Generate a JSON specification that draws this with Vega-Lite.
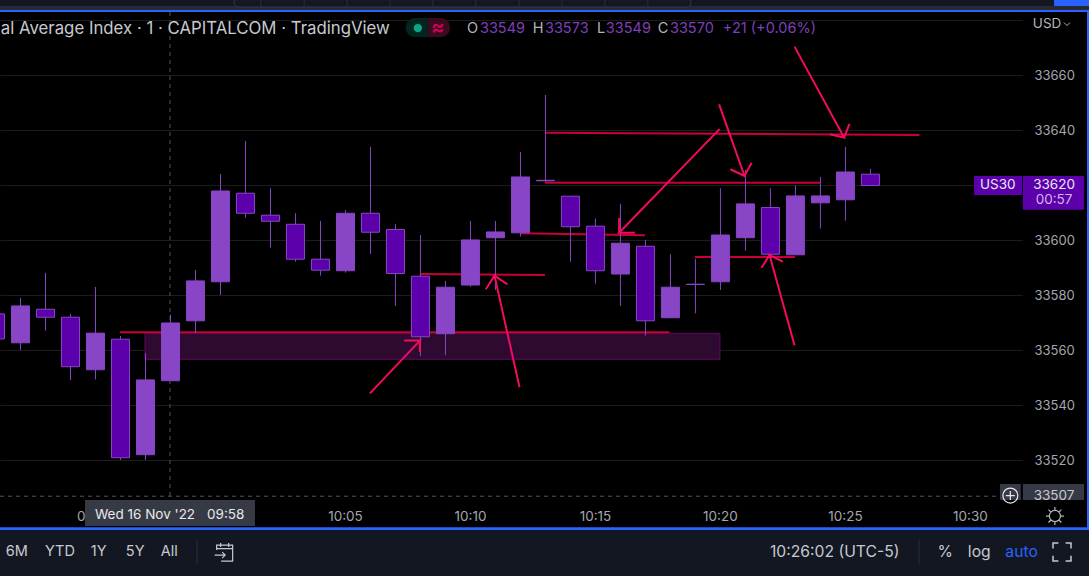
{
"$schema":"https://vega.github.io/schema/vega-lite/v6.json",
"width":1022,"height":488,
"autosize":{"type":"none"},
"padding":{"left":0,"top":12,"right":67,"bottom":76},
"background":"#000000",
"config":{"font":"Inter","style":{"cell":{"stroke":null}}},
"datasets":{
"candles":[
{"time":"2022-11-16T09:51:00","open":33573.3,"high":33574.7,"low":33562,"close":33564.2},
{"time":"2022-11-16T09:52:00","open":33562.8,"high":33579.1,"low":33560.2,"close":33576.2},
{"time":"2022-11-16T09:53:00","open":33575,"high":33588.2,"low":33567.2,"close":33572.1},
{"time":"2022-11-16T09:54:00","open":33572.1,"high":33573.3,"low":33549.3,"close":33554.1},
{"time":"2022-11-16T09:55:00","open":33553,"high":33583.1,"low":33549.5,"close":33566.3},
{"time":"2022-11-16T09:56:00","open":33564.1,"high":33565.3,"low":33520.2,"close":33521},
{"time":"2022-11-16T09:57:00","open":33522.1,"high":33559,"low":33520.2,"close":33549.3},
{"time":"2022-11-16T09:58:00","open":33549,"high":33573,"low":33549,"close":33570},
{"time":"2022-11-16T09:59:00","open":33570.8,"high":33589.3,"low":33566.4,"close":33585.3},
{"time":"2022-11-16T10:00:00","open":33585,"high":33624.2,"low":33580.2,"close":33618},
{"time":"2022-11-16T10:01:00","open":33617.2,"high":33636.2,"low":33608.3,"close":33609.9},
{"time":"2022-11-16T10:02:00","open":33609.2,"high":33619,"low":33597.4,"close":33607},
{"time":"2022-11-16T10:03:00","open":33605.9,"high":33609.9,"low":33592.3,"close":33593.2},
{"time":"2022-11-16T10:04:00","open":33593.2,"high":33607.1,"low":33587.2,"close":33589.2},
{"time":"2022-11-16T10:05:00","open":33589,"high":33611.1,"low":33588.3,"close":33609.9},
{"time":"2022-11-16T10:06:00","open":33609.9,"high":33634,"low":33595.1,"close":33603},
{"time":"2022-11-16T10:07:00","open":33604,"high":33606,"low":33576.2,"close":33588},
{"time":"2022-11-16T10:08:00","open":33587,"high":33602,"low":33558,"close":33565},
{"time":"2022-11-16T10:09:00","open":33566.1,"high":33585.3,"low":33558.4,"close":33583},
{"time":"2022-11-16T10:10:00","open":33583.8,"high":33607.1,"low":33583.2,"close":33600.2},
{"time":"2022-11-16T10:11:00","open":33601,"high":33607.1,"low":33582,"close":33603.1},
{"time":"2022-11-16T10:12:00","open":33602.8,"high":33632.2,"low":33601.4,"close":33623.1},
{"time":"2022-11-16T10:13:00","open":33621.7,"high":33652.9,"low":33621.3,"close":33621.9},
{"time":"2022-11-16T10:14:00","open":33616.1,"high":33616.1,"low":33592.3,"close":33605},
{"time":"2022-11-16T10:15:00","open":33605.2,"high":33608,"low":33584.3,"close":33589},
{"time":"2022-11-16T10:16:00","open":33587.8,"high":33613.3,"low":33576.2,"close":33599},
{"time":"2022-11-16T10:17:00","open":33597.9,"high":33600.2,"low":33565.4,"close":33570.8},
{"time":"2022-11-16T10:18:00","open":33571.9,"high":33595,"low":33571.9,"close":33583},
{"time":"2022-11-16T10:19:00","open":33584,"high":33593.3,"low":33573.5,"close":33584.1},
{"time":"2022-11-16T10:20:00","open":33585,"high":33619,"low":33582,"close":33602},
{"time":"2022-11-16T10:21:00","open":33601,"high":33625.6,"low":33596.3,"close":33613.3},
{"time":"2022-11-16T10:22:00","open":33612,"high":33619,"low":33595,"close":33595},
{"time":"2022-11-16T10:23:00","open":33594.8,"high":33620,"low":33594.8,"close":33616.2},
{"time":"2022-11-16T10:24:00","open":33613.7,"high":33623.1,"low":33604.3,"close":33616.2},
{"time":"2022-11-16T10:25:00","open":33614.8,"high":33634,"low":33607.2,"close":33624.9},
{"time":"2022-11-16T10:26:00","open":33624.1,"high":33626,"low":33620,"close":33620}
],
"zone":[{"time":"2022-11-16T09:57:00","time2":"2022-11-16T10:20:00","price":33566.25,"price2":33556.8,"role":"zone"}],
"levels":[
{"id":"l1","step":1,"time":"2022-11-16T09:56:00","price":33566.6,"role":"level"},
{"id":"l1","step":2,"time":"2022-11-16T10:17:59","price":33566.6,"role":"level"},
{"id":"l2","step":1,"time":"2022-11-16T10:08:00","price":33587.8,"role":"level"},
{"id":"l2","step":2,"time":"2022-11-16T10:13:00","price":33587.45,"role":"level"},
{"id":"l3","step":1,"time":"2022-11-16T10:12:00","price":33602.6,"role":"level"},
{"id":"l3","step":2,"time":"2022-11-16T10:17:00","price":33601.9,"role":"level"},
{"id":"l4","step":1,"time":"2022-11-16T10:13:00","price":33639.2,"role":"level"},
{"id":"l4","step":2,"time":"2022-11-16T10:27:59","price":33638.4,"role":"level"},
{"id":"l5","step":1,"time":"2022-11-16T10:13:00","price":33621,"role":"level"},
{"id":"l5","step":2,"time":"2022-11-16T10:24:00","price":33621,"role":"level"},
{"id":"l6","step":1,"time":"2022-11-16T10:19:00","price":33594,"role":"level"},
{"id":"l6","step":2,"time":"2022-11-16T10:23:00","price":33594,"role":"level"}
],
"arrows":[
{"id":"a1","step":1,"time":"2022-11-16T10:06:00","price":33544.4,"role":"arrow"},
{"id":"a1","step":2,"time":"2022-11-16T10:08:00","price":33563.6,"role":"arrow"},
{"id":"a1","step":3,"time":"2022-11-16T10:07:22","price":33563.6,"role":"arrow"},
{"id":"a1","step":4,"time":"2022-11-16T10:08:00","price":33563.6,"role":"arrow"},
{"id":"a1","step":5,"time":"2022-11-16T10:08:00","price":33559.45,"role":"arrow"},
{"id":"a2","step":1,"time":"2022-11-16T10:11:59","price":33546.6,"role":"arrow"},
{"id":"a2","step":2,"time":"2022-11-16T10:10:59","price":33587.2,"role":"arrow"},
{"id":"a2","step":3,"time":"2022-11-16T10:10:38","price":33582.25,"role":"arrow"},
{"id":"a2","step":4,"time":"2022-11-16T10:10:59","price":33587.2,"role":"arrow"},
{"id":"a2","step":5,"time":"2022-11-16T10:11:30","price":33584.05,"role":"arrow"},
{"id":"a3","step":1,"time":"2022-11-16T10:19:59","price":33640.5,"role":"arrow"},
{"id":"a3","step":2,"time":"2022-11-16T10:15:58","price":33602.8,"role":"arrow"},
{"id":"a3","step":3,"time":"2022-11-16T10:16:36","price":33602.8,"role":"arrow"},
{"id":"a3","step":4,"time":"2022-11-16T10:15:58","price":33602.8,"role":"arrow"},
{"id":"a3","step":5,"time":"2022-11-16T10:15:58","price":33608.2,"role":"arrow"},
{"id":"a4","step":1,"time":"2022-11-16T10:19:58","price":33649.5,"role":"arrow"},
{"id":"a4","step":2,"time":"2022-11-16T10:20:59","price":33623.45,"role":"arrow"},
{"id":"a4","step":3,"time":"2022-11-16T10:20:25","price":33625.9,"role":"arrow"},
{"id":"a4","step":4,"time":"2022-11-16T10:20:59","price":33623.45,"role":"arrow"},
{"id":"a4","step":5,"time":"2022-11-16T10:21:16","price":33628.3,"role":"arrow"},
{"id":"a5","step":1,"time":"2022-11-16T10:22:59","price":33561.9,"role":"arrow"},
{"id":"a5","step":2,"time":"2022-11-16T10:21:59","price":33594.7,"role":"arrow"},
{"id":"a5","step":3,"time":"2022-11-16T10:21:40","price":33590.1,"role":"arrow"},
{"id":"a5","step":4,"time":"2022-11-16T10:21:59","price":33594.7,"role":"arrow"},
{"id":"a5","step":5,"time":"2022-11-16T10:22:31","price":33592.3,"role":"arrow"},
{"id":"a6","step":1,"time":"2022-11-16T10:22:59","price":33670.5,"role":"arrow"},
{"id":"a6","step":2,"time":"2022-11-16T10:24:58","price":33637.4,"role":"arrow"},
{"id":"a6","step":3,"time":"2022-11-16T10:24:24","price":33638.6,"role":"arrow"},
{"id":"a6","step":4,"time":"2022-11-16T10:24:58","price":33637.4,"role":"arrow"},
{"id":"a6","step":5,"time":"2022-11-16T10:25:11","price":33642.4,"role":"arrow"}
],
"crosshair":[
{"time":"2022-11-16T09:58:00","time2":"2022-11-16T09:58:00","price":33683.09,"price2":33505.63,"role":"cross"},
{"time":"2022-11-16T09:51:12","time2":"2022-11-16T10:31:12","price":33507,"price2":33507,"role":"cross"}
],
"panels":[
{"time":"2022-11-16T09:51:12","time2":"2022-11-16T10:34:46","price":33494.9,"price2":33478,"role":"bar"},
{"time":"2022-11-16T09:51:12","time2":"2022-11-16T10:34:46","price":33495.7,"price2":33494.7,"role":"blue"},
{"time":"2022-11-16T10:34:41","time2":"2022-11-16T10:34:46","price":33683.8,"price2":33494.7,"role":"blue"},
{"time":"2022-11-16T09:51:12","time2":"2022-11-16T10:34:46","price":33687.45,"price2":33685.27,"role":"bar"},
{"time":"2022-11-16T09:51:12","time2":"2022-11-16T10:34:46","price":33685.27,"price2":33683.8,"role":"strip"},
{"time":"2022-11-16T09:51:12","time2":"2022-11-16T10:34:46","price":33683.8,"price2":33683.09,"role":"blue"},
{"time":"2022-11-16T10:33:22","time2":"2022-11-16T10:34:46","price":33687.45,"price2":33685.27,"role":"blue"},
{"time":"2022-11-16T10:30:10","time2":"2022-11-16T10:32:05","price":33623.45,"price2":33616.55,"role":"tag"},
{"time":"2022-11-16T10:32:07","time2":"2022-11-16T10:34:34","price":33623.45,"price2":33611.2,"role":"tag"},
{"time":"2022-11-16T10:32:07","time2":"2022-11-16T10:34:34","price":33511.45,"price2":33505.65,"role":"tip"},
{"time":"2022-11-16T10:31:12","time2":"2022-11-16T10:32:02","price":33511.45,"price2":33505.65,"role":"tip"},
{"time":"2022-11-16T09:54:36","time2":"2022-11-16T10:01:24","price":33505.65,"price2":33496.15,"role":"tip"}
],
"tabs":[{"time":"2022-11-16T10:00:34","time2":"2022-11-16T10:18:50","price":33687.6,"price2":33684.9,"role":"bar"}],
"seps":[
{"time":"2022-11-16T09:59:05","price":33491.05,"price2":33482.35,"role":"sep"},
{"time":"2022-11-16T10:27:58","price":33491.05,"price2":33482.35,"role":"sep"},
{"time":"2022-11-16T10:01:38","price":33687.45,"price2":33684.9,"role":"sep"},
{"time":"2022-11-16T10:03:22","price":33687.45,"price2":33684.9,"role":"sep"},
{"time":"2022-11-16T10:05:05","price":33687.45,"price2":33684.9,"role":"sep"},
{"time":"2022-11-16T10:06:48","price":33687.45,"price2":33684.9,"role":"sep"},
{"time":"2022-11-16T10:08:31","price":33687.45,"price2":33684.9,"role":"sep"},
{"time":"2022-11-16T10:10:14","price":33687.45,"price2":33684.9,"role":"sep"},
{"time":"2022-11-16T10:11:58","price":33687.45,"price2":33684.9,"role":"sep"},
{"time":"2022-11-16T10:13:41","price":33687.45,"price2":33684.9,"role":"sep"},
{"time":"2022-11-16T10:15:24","price":33687.45,"price2":33684.9,"role":"sep"},
{"time":"2022-11-16T10:17:07","price":33687.45,"price2":33684.9,"role":"sep"}
],
"pillGreen":[{"time":"2022-11-16T10:07:26","time2":"2022-11-16T10:08:19","price":33680.9,"price2":33674,"role":"pillG"}],
"pillRed":[{"time":"2022-11-16T10:08:19","time2":"2022-11-16T10:09:12","price":33680.9,"price2":33674,"role":"pillR"}],
"dot":[{"time":"2022-11-16T10:07:55","price":33677.25,"role":"dot"}],
"titleText":[{"time":"2022-11-16T09:51:14","price":33676.9,"role":"text","label":"al Average Index · 1 · CAPITALCOM · TradingView"}],
"ohlc":[
{"time":"2022-11-16T10:09:53","price":33676.9,"role":"muted","label":"O"},
{"time":"2022-11-16T10:10:24","price":33676.9,"role":"purple","label":"33549"},
{"time":"2022-11-16T10:12:31","price":33676.9,"role":"muted","label":"H"},
{"time":"2022-11-16T10:13:00","price":33676.9,"role":"purple","label":"33573"},
{"time":"2022-11-16T10:15:05","price":33676.9,"role":"muted","label":"L"},
{"time":"2022-11-16T10:15:26","price":33676.9,"role":"purple","label":"33549"},
{"time":"2022-11-16T10:17:31","price":33676.9,"role":"muted","label":"C"},
{"time":"2022-11-16T10:18:00","price":33676.9,"role":"purple","label":"33570"},
{"time":"2022-11-16T10:20:07","price":33676.9,"role":"purple","label":"+21 (+0.06%)"}
],
"smallText":[
{"time":"2022-11-16T10:32:31","price":33678.55,"role":"muted","label":"USD"},
{"time":"2022-11-16T09:55:00","price":33500.15,"role":"white","label":"Wed 16 Nov '22"},
{"time":"2022-11-16T09:59:29","price":33500.15,"role":"white","label":"09:58"}
],
"toolbar":[
{"time":"2022-11-16T09:51:26","price":33486.7,"role":"text","label":"6M"},
{"time":"2022-11-16T09:53:00","price":33486.7,"role":"text","label":"YTD"},
{"time":"2022-11-16T09:54:50","price":33486.7,"role":"text","label":"1Y"},
{"time":"2022-11-16T09:56:14","price":33486.7,"role":"text","label":"5Y"},
{"time":"2022-11-16T09:57:38","price":33486.7,"role":"text","label":"All"}
],
"toolbarRight":[
{"time":"2022-11-16T10:22:00","price":33486.7,"role":"text","label":"10:26:02 (UTC-5)"},
{"time":"2022-11-16T10:28:42","price":33486.7,"role":"text","label":"%"},
{"time":"2022-11-16T10:29:55","price":33486.7,"role":"text","label":"log"},
{"time":"2022-11-16T10:31:25","price":33486.7,"role":"blueText","label":"auto"}
],
"tagText":[
{"time":"2022-11-16T10:31:07","price":33620,"role":"white","label":"US30"},
{"time":"2022-11-16T10:33:22","price":33620,"role":"white","label":"33620"},
{"time":"2022-11-16T10:33:22","price":33614.55,"role":"tagMuted","label":"00:57"},
{"time":"2022-11-16T10:33:22","price":33507.25,"role":"text","label":"33507"}
],
"approx":[{"time":"2022-11-16T10:08:43","price":33677.45,"role":"rose","label":"≈"}],
"iconPlus":[{"time":"2022-11-16T10:31:37","price":33507.25,"role":"white"}],
"iconSun":[{"time":"2022-11-16T10:33:24","price":33499.8,"role":"muted"}],
"iconCal":[{"time":"2022-11-16T10:00:10","price":33486.7,"role":"text"}],
"iconFull":[{"time":"2022-11-16T10:33:41","price":33486.7,"role":"text"}],
"iconChev":[{"time":"2022-11-16T10:33:53","price":33678.7,"role":"muted"}]
},
"encoding":{
"x":{"field":"time","type":"temporal","title":null,
"scale":{"padding":0,"domain":[{"year":2022,"month":11,"date":16,"hours":9,"minutes":51,"seconds":12},{"year":2022,"month":11,"date":16,"hours":10,"minutes":32,"seconds":5}]},
"axis":{"format":"%H:%M","values":[{"year":2022,"month":11,"date":16,"hours":9,"minutes":55},{"year":2022,"month":11,"date":16,"hours":10,"minutes":5},{"year":2022,"month":11,"date":16,"hours":10,"minutes":10},{"year":2022,"month":11,"date":16,"hours":10,"minutes":15},{"year":2022,"month":11,"date":16,"hours":10,"minutes":20},{"year":2022,"month":11,"date":16,"hours":10,"minutes":25},{"year":2022,"month":11,"date":16,"hours":10,"minutes":30}],"grid":false,"ticks":false,"domain":false,"labelColor":"#a3a6af","labelFont":"Inter","labelFontSize":13.5,"labelPadding":9,"labelFlush":false,"labelOverlap":false,"labelBound":false}},
"y":{"field":"price","type":"quantitative","title":null,
"scale":{"domain":[33505.63,33683.09],"nice":false,"zero":false},
"axis":{"orient":"right","values":[33520,33540,33560,33580,33600,33620,33640,33660,33680],"labelExpr":"datum.value>33670||datum.value==33620?'':format(datum.value,'d')","grid":true,"gridColor":"#1c1c1e","gridWidth":1,"ticks":false,"domain":false,"labelColor":"#a3a6af","labelFont":"Inter","labelFontSize":13,"labelPadding":12,"labelOverlap":false,"labelBound":false}},
"color":{"field":"role","type":"nominal","legend":null,
"scale":{"domain":["bar","strip","blue","tag","tip","pillG","pillR","zone","level","arrow","cross","sep","text","muted","purple","white","tagMuted","dot","blueText","rose"],
"range":["#131722","#262a35","#2962ff","#5b00ab","#363a45","#00261f","#3a0a1e","#2f0a30","#c80036","#f50a60","#555555","#2a2e39","#c7c9d0","#b2b5be","#7e3fb8","#e8e9ed","#d0b8ea","#0aa585","#2962ff","#c8054f"]}}
},
"layer":[
{"data":{"name":"zone"},"mark":{"type":"rect","stroke":"#5f0a5e","strokeWidth":1},"encoding":{"x2":{"field":"time2"},"y2":{"field":"price2"}}},
{"data":{"name":"levels"},"mark":{"type":"line","strokeWidth":2,"interpolate":"linear"},"encoding":{"detail":{"field":"id"},"order":{"field":"step"}}},
{"data":{"name":"crosshair"},"mark":{"type":"rule","strokeWidth":1,"strokeDash":[4,4]},"encoding":{"x2":{"field":"time2"},"y2":{"field":"price2"}}},
{"data":{"name":"candles"},"mark":{"type":"rule","strokeWidth":1,"xOffset":0.5},"encoding":{"y":{"field":"low","type":"quantitative"},"y2":{"field":"high"},"color":{"value":"#8845c6"}}},
{"data":{"name":"candles"},"mark":{"type":"bar","size":18,"stroke":"#8845c6","strokeWidth":1,"xOffset":0.5},"encoding":{"y":{"field":"open","type":"quantitative"},"y2":{"field":"close"},"color":{"condition":{"test":"datum.close>=datum.open","value":"#8845c6"},"value":"#5b00ab"}}},
{"data":{"name":"arrows"},"mark":{"type":"line","strokeWidth":2,"interpolate":"linear"},"encoding":{"detail":{"field":"id"},"order":{"field":"step"}}},
{"data":{"name":"panels"},"mark":{"type":"rect"},"encoding":{"x2":{"field":"time2"},"y2":{"field":"price2"}}},
{"data":{"name":"tabs"},"mark":{"type":"rect","stroke":"#363a45","strokeWidth":1,"cornerRadiusBottomLeft":5,"cornerRadiusBottomRight":5},"encoding":{"x2":{"field":"time2"},"y2":{"field":"price2"}}},
{"data":{"name":"seps"},"mark":{"type":"rule","strokeWidth":1},"encoding":{"y2":{"field":"price2"}}},
{"data":{"name":"pillGreen"},"mark":{"type":"rect","cornerRadiusTopLeft":9,"cornerRadiusBottomLeft":9},"encoding":{"x2":{"field":"time2"},"y2":{"field":"price2"}}},
{"data":{"name":"pillRed"},"mark":{"type":"rect","cornerRadiusTopRight":9,"cornerRadiusBottomRight":9},"encoding":{"x2":{"field":"time2"},"y2":{"field":"price2"}}},
{"data":{"name":"dot"},"mark":{"type":"point","filled":true,"shape":"circle","size":70,"opacity":1}},
{"data":{"name":"titleText"},"mark":{"type":"text","align":"left","baseline":"middle","font":"Inter","fontSize":16.8}, "encoding":{"text":{"field":"label"}}},
{"data":{"name":"ohlc"},"mark":{"type":"text","align":"left","baseline":"middle","font":"Inter","fontSize":14.5}, "encoding":{"text":{"field":"label"}}},
{"data":{"name":"smallText"},"mark":{"type":"text","align":"left","baseline":"middle","font":"Inter","fontSize":13.5}, "encoding":{"text":{"field":"label"}}},
{"data":{"name":"toolbar"},"mark":{"type":"text","align":"left","baseline":"middle","font":"Inter","fontSize":14.5}, "encoding":{"text":{"field":"label"}}},
{"data":{"name":"toolbarRight"},"mark":{"type":"text","align":"left","baseline":"middle","font":"Inter","fontSize":15.7}, "encoding":{"text":{"field":"label"}}},
{"data":{"name":"tagText"},"mark":{"type":"text","align":"center","baseline":"middle","font":"Inter","fontSize":13.5}, "encoding":{"text":{"field":"label"}}},
{"data":{"name":"approx"},"mark":{"type":"text","align":"center","baseline":"middle","font":"Inter","fontSize":20,"fontWeight":"bold"}, "encoding":{"text":{"field":"label"}}},
{"data":{"name":"iconPlus"},"mark":{"type":"point","filled":false,"strokeWidth":1.2,"opacity":1,"size":225,"shape":"M-1,0A1,1 0 1,1 1,0A1,1 0 1,1 -1,0Z M-0.6,0L0.6,0 M0,-0.6L0,0.6"}},
{"data":{"name":"iconSun"},"mark":{"type":"point","filled":false,"strokeWidth":1.2,"opacity":1,"size":324,"shape":"M-0.62,0A0.62,0.62 0 1,1 0.62,0A0.62,0.62 0 1,1 -0.62,0Z M0,-1L0,-0.62 M0,1L0,0.62 M-1,0L-0.62,0 M1,0L0.62,0 M-0.72,-0.72L-0.44,-0.44 M0.72,-0.72L0.44,-0.44 M-0.72,0.72L-0.44,0.44 M0.72,0.72L0.44,0.44"}},
{"data":{"name":"iconCal"},"mark":{"type":"point","filled":false,"strokeWidth":1.2,"opacity":1,"size":400,"shape":"M-0.75,-0.2L-0.75,-0.7L0.85,-0.7L0.85,0.9L-0.3,0.9 M-0.75,-0.35L0.85,-0.35 M-0.35,-0.9L-0.35,-0.5 M0.45,-0.9L0.45,-0.5 M-0.95,0.3L0.1,0.3 M-0.2,0L0.1,0.3L-0.2,0.6"}},
{"data":{"name":"iconFull"},"mark":{"type":"point","filled":false,"strokeWidth":1.5,"opacity":1,"size":324,"shape":"M-1,-0.4L-1,-1L-0.4,-1 M0.4,-1L1,-1L1,-0.4 M1,0.4L1,1L0.4,1 M-0.4,1L-1,1L-1,0.4"}},
{"data":{"name":"iconChev"},"mark":{"type":"point","filled":false,"strokeWidth":1,"opacity":1,"size":36,"shape":"M-1,-0.5L0,0.5L1,-0.5"}}
]
}
